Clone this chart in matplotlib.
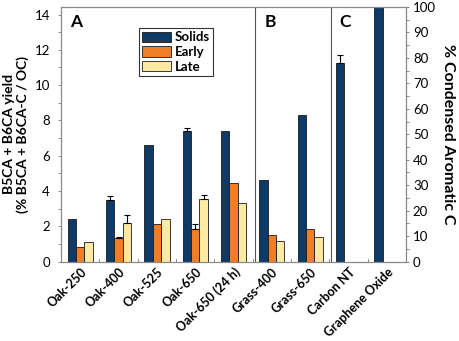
import matplotlib
matplotlib.use("Agg")
import matplotlib.pyplot as plt
import numpy as np

plt.rcParams['font.family'] = ['Lato', 'DejaVu Sans']

samples = ["Oak-250", "Oak-400", "Oak-525", "Oak-650", "Oak-650 (24 h)",
           "Grass-400", "Grass-650", "Carbon NT", "Graphene Oxide"]
solids = [2.41, 3.47, 6.58, 7.39, 7.39, 4.65, 8.32, 11.25, 15.0]
solids_err = [0, 0.25, 0, 0.19, 0, 0, 0, 0.45, 0]
early = [0.85, 1.31, 2.14, 1.87, 4.48, 1.53, 1.83, np.nan, np.nan]
early_err = [0, 0.09, 0, 0.25, 0, 0, 0, 0, 0]
late = [1.08, 2.16, 2.39, 3.52, 3.31, 1.17, 1.38, np.nan, np.nan]
late_err = [0, 0.48, 0, 0.28, 0, 0, 0, 0, 0]

c_solids = "#0D3A66"
c_early = "#F07E26"
c_late = "#FDE9A2"

fig = plt.figure(figsize=(4.59, 3.41), dpi=100)
ax = fig.add_axes([0.133, 0.233, 0.7515, 0.7465])

x = np.arange(len(samples))
w = 0.22
ax.bar(x - w, solids, w, color=c_solids, edgecolor="#1a1a1a", linewidth=0.6, label="Solids")
ax.bar(x, early, w, color=c_early, edgecolor="#1a1a1a", linewidth=0.6, label="Early")
ax.bar(x + w, late, w, color=c_late, edgecolor="#1a1a1a", linewidth=0.6, label="Late")

for off, vals, errs in [(-w, solids, solids_err), (0, early, early_err), (w, late, late_err)]:
    for xi, v, e in zip(x, vals, errs):
        if e > 0:
            ax.errorbar(xi + off, v, yerr=[[0], [e]], fmt="none", ecolor="black",
                        elinewidth=0.8, capsize=2, capthick=0.8)

ax.set_xlim(-0.5, len(samples) - 0.5)
ax.set_ylim(0, 14.43)
ax.set_yticks(np.arange(0, 15, 2))
ax.set_yticks(np.arange(1, 15, 2), minor=True)
ax.tick_params(axis="y", direction="out", length=2, width=0.6, color="#777777", labelsize=9.5, pad=6)
ax.tick_params(axis="y", which="minor", direction="out", length=2, width=0.6, color="#777777")

ax.set_xticks(x)
ax.set_xticklabels(samples, rotation=45, ha="right", rotation_mode="anchor",
                   fontsize=9, fontweight="bold")
ax.tick_params(axis="x", length=0, pad=3)
for b in np.arange(0.5, len(samples) - 1, 1):
    ax.plot([b, b], [0, 0.15], color="#777777", lw=0.6)

for s in ax.spines.values():
    s.set_color("#888888")
    s.set_linewidth(0.8)

for b in [4.55, 6.55]:
    ax.axvline(b, color="#555555", lw=0.8)

for txt, xp in [("A", -0.1), ("B", 4.95), ("C", 6.9)]:
    ax.text(xp, 13.6, txt, fontsize=12.5, fontweight="bold", va="center", ha="center")

ax.set_ylabel("B5CA + B6CA yield\n(% B5CA + B6CA-C / OC)", fontsize=10, fontweight="bold",
              labelpad=4, linespacing=1.1)

leg = ax.legend(loc="upper left", bbox_to_anchor=(0.225, 0.917), fontsize=9.5, frameon=True,
                fancybox=False, edgecolor="black", handlelength=2.2, handleheight=0.85,
                borderpad=0.25, labelspacing=0.2, handletextpad=0.3, borderaxespad=0)
leg.get_frame().set_linewidth(0.8)
for t in leg.get_texts():
    t.set_fontweight("bold")

ax2 = ax.twinx()
ax2.set_ylim(0, 100)
ax2.set_yticks(np.arange(0, 101, 10))
ax2.set_yticks(np.arange(5, 100, 10), minor=True)
ax2.tick_params(axis="y", direction="out", length=2, width=0.6, color="#777777", labelsize=9.5, pad=3)
ax2.tick_params(axis="y", which="minor", direction="out", length=2, width=0.6, color="#777777")
for s in ax2.spines.values():
    s.set_color("#888888")
    s.set_linewidth(0.8)
ax2.set_ylabel("% Condensed Aromatic C", fontsize=11.5, fontweight="bold", rotation=270, labelpad=14)

fig.savefig("out.png", dpi=100)
